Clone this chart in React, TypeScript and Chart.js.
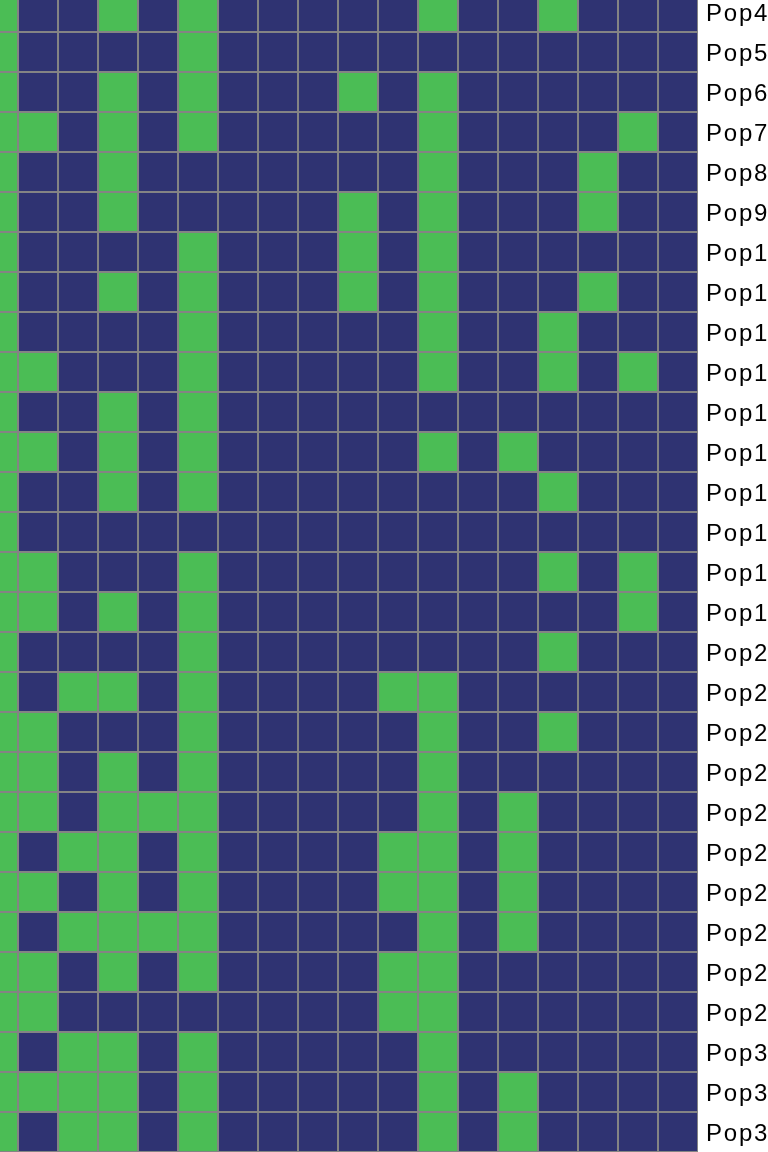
import { useEffect, useRef } from 'react';
import { Chart, registerables } from 'chart.js';

Chart.register(...registerables);

// Row labels (populations), top to bottom
const populations = [
  'Pop4', 'Pop5', 'Pop6', 'Pop7', 'Pop8', 'Pop9', 'Pop10', 'Pop11', 'Pop12', 'Pop13',
  'Pop14', 'Pop15', 'Pop16', 'Pop17', 'Pop18', 'Pop19', 'Pop20', 'Pop21', 'Pop22', 'Pop23',
  'Pop24', 'Pop25', 'Pop26', 'Pop27', 'Pop28', 'Pop29', 'Pop30', 'Pop31', 'Pop32',
];

// Column names (not shown in the picture)
const markers = [
  'M1', 'M2', 'M3', 'M4', 'M5', 'M6', 'M7', 'M8', 'M9',
  'M10', 'M11', 'M12', 'M13', 'M14', 'M15', 'M16', 'M17', 'M18',
];

// 1 = present (green), 0 = absent (navy); one row per population
const presence = [
  [1, 0, 0, 1, 0, 1, 0, 0, 0, 0, 0, 1, 0, 0, 1, 0, 0, 0],
  [1, 0, 0, 0, 0, 1, 0, 0, 0, 0, 0, 0, 0, 0, 0, 0, 0, 0],
  [1, 0, 0, 1, 0, 1, 0, 0, 0, 1, 0, 1, 0, 0, 0, 0, 0, 0],
  [1, 1, 0, 1, 0, 1, 0, 0, 0, 0, 0, 1, 0, 0, 0, 0, 1, 0],
  [1, 0, 0, 1, 0, 0, 0, 0, 0, 0, 0, 1, 0, 0, 0, 1, 0, 0],
  [1, 0, 0, 1, 0, 0, 0, 0, 0, 1, 0, 1, 0, 0, 0, 1, 0, 0],
  [1, 0, 0, 0, 0, 1, 0, 0, 0, 1, 0, 1, 0, 0, 0, 0, 0, 0],
  [1, 0, 0, 1, 0, 1, 0, 0, 0, 1, 0, 1, 0, 0, 0, 1, 0, 0],
  [1, 0, 0, 0, 0, 1, 0, 0, 0, 0, 0, 1, 0, 0, 1, 0, 0, 0],
  [1, 1, 0, 0, 0, 1, 0, 0, 0, 0, 0, 1, 0, 0, 1, 0, 1, 0],
  [1, 0, 0, 1, 0, 1, 0, 0, 0, 0, 0, 0, 0, 0, 0, 0, 0, 0],
  [1, 1, 0, 1, 0, 1, 0, 0, 0, 0, 0, 1, 0, 1, 0, 0, 0, 0],
  [1, 0, 0, 1, 0, 1, 0, 0, 0, 0, 0, 0, 0, 0, 1, 0, 0, 0],
  [1, 0, 0, 0, 0, 0, 0, 0, 0, 0, 0, 0, 0, 0, 0, 0, 0, 0],
  [1, 1, 0, 0, 0, 1, 0, 0, 0, 0, 0, 0, 0, 0, 1, 0, 1, 0],
  [1, 1, 0, 1, 0, 1, 0, 0, 0, 0, 0, 0, 0, 0, 0, 0, 1, 0],
  [1, 0, 0, 0, 0, 1, 0, 0, 0, 0, 0, 0, 0, 0, 1, 0, 0, 0],
  [1, 0, 1, 1, 0, 1, 0, 0, 0, 0, 1, 1, 0, 0, 0, 0, 0, 0],
  [1, 1, 0, 0, 0, 1, 0, 0, 0, 0, 0, 1, 0, 0, 1, 0, 0, 0],
  [1, 1, 0, 1, 0, 1, 0, 0, 0, 0, 0, 1, 0, 0, 0, 0, 0, 0],
  [1, 1, 0, 1, 1, 1, 0, 0, 0, 0, 0, 1, 0, 1, 0, 0, 0, 0],
  [1, 0, 1, 1, 0, 1, 0, 0, 0, 0, 1, 1, 0, 1, 0, 0, 0, 0],
  [1, 1, 0, 1, 0, 1, 0, 0, 0, 0, 1, 1, 0, 1, 0, 0, 0, 0],
  [1, 0, 1, 1, 1, 1, 0, 0, 0, 0, 0, 1, 0, 1, 0, 0, 0, 0],
  [1, 1, 0, 1, 0, 1, 0, 0, 0, 0, 1, 1, 0, 0, 0, 0, 0, 0],
  [1, 1, 0, 0, 0, 0, 0, 0, 0, 0, 1, 1, 0, 0, 0, 0, 0, 0],
  [1, 0, 1, 1, 0, 1, 0, 0, 0, 0, 0, 1, 0, 0, 0, 0, 0, 0],
  [1, 1, 1, 1, 0, 1, 0, 0, 0, 0, 0, 1, 0, 1, 0, 0, 0, 0],
  [1, 0, 1, 1, 0, 1, 0, 0, 0, 0, 0, 1, 0, 1, 0, 0, 0, 0],
];

const PRESENT = '#4BBD55';
const ABSENT = '#2F3372';
const GRID = '#848484';

export default function App() {
  const ref = useRef<HTMLCanvasElement>(null);

  useEffect(() => {
    const canvas = ref.current;
    if (!canvas) return;
    const datasets = markers.map((m, j) => ({
      label: m,
      data: populations.map(() => 1),
      backgroundColor: presence.map((r) => (r[j] ? PRESENT : ABSENT)),
      borderColor: GRID,
      borderWidth: 1,
      borderSkipped: false,
      inflateAmount: 0,
      barPercentage: 1,
      categoryPercentage: 1,
    }));
    const chart = new Chart(canvas, {
      type: 'bar',
      data: { labels: populations, datasets: datasets as any },
      options: {
        indexAxis: 'y',
        animation: false,
        responsive: false,
        maintainAspectRatio: false,
        devicePixelRatio: 1,
        layout: { padding: 0 },
        plugins: {
          legend: { display: false },
          tooltip: { enabled: false },
        },
        scales: {
          x: {
            type: 'linear',
            stacked: true,
            min: 0,
            max: markers.length,
            display: false,
          },
          y: {
            type: 'category',
            stacked: true,
            position: 'right',
            offset: true,
            grid: { display: false, drawTicks: false },
            border: { display: false },
            ticks: {
              color: '#000000',
              padding: 8,
              labelOffset: 2,
              autoSkip: false,
              font: { family: "'Liberation Sans', Arial, sans-serif", size: 24 },
            },
            afterFit: (s: any) => {
              s.width = 100;
              s.paddingTop = 0;
              s.paddingBottom = 0;
            },
          },
        },
      } as any,
      plugins: [
        {
          id: 'labelSpacing',
          beforeDraw: (c: any) => {
            c.ctx.letterSpacing = '1.8px';
          },
        },
      ],
    });
    return () => chart.destroy();
  }, []);

  return (
    <div
      style={{
        position: 'fixed',
        left: 0,
        top: 0,
        width: 768,
        height: 1152,
        overflow: 'hidden',
        background: '#ffffff',
      }}
    >
      <canvas
        ref={ref}
        width={820}
        height={1160}
        style={{ position: 'absolute', left: -22, top: -8, width: 820, height: 1160 }}
      />
    </div>
  );
}
